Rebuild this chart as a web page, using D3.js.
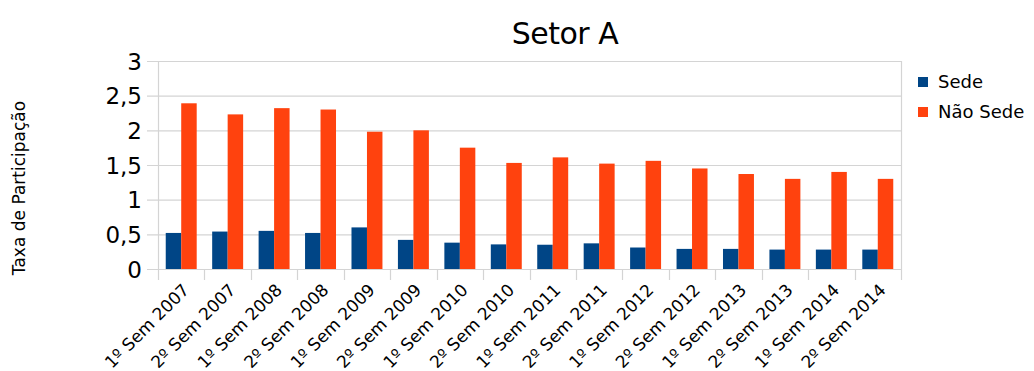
<!DOCTYPE html>
<html><head><meta charset="utf-8">
<script src="https://cdn.jsdelivr.net/npm/d3@7"></script>
<style>body{margin:0;background:#fff}svg{display:block;font-family:"DejaVu Sans",sans-serif}</style>
</head><body><svg id="c" width="1034" height="371"></svg>
<script>
const categories = ["1º Sem 2007","2º Sem 2007","1º Sem 2008","2º Sem 2008","1º Sem 2009","2º Sem 2009","1º Sem 2010","2º Sem 2010","1º Sem 2011","2º Sem 2011","1º Sem 2012","2º Sem 2012","1º Sem 2013","2º Sem 2013","1º Sem 2014","2º Sem 2014"];
const seriesNames = ["Sede","Não Sede"];
const sede = [0.52,0.54,0.55,0.52,0.60,0.42,0.38,0.355,0.35,0.37,0.31,0.29,0.29,0.28,0.28,0.28];
const naoSede = [2.39,2.23,2.32,2.30,1.98,2.00,1.75,1.53,1.61,1.52,1.56,1.45,1.37,1.30,1.40,1.30];
const yTicks = [0,0.5,1,1.5,2,2.5,3];
const colors = ["#004586","#ff420e"];
const title = "Setor A";
const yTitle = "Taxa de Participação";

const svg = d3.select("#c");
const L=158,R=901,T=61,B=269;
const x = d3.scaleBand().domain(categories).range([L,R]).paddingInner(0).paddingOuter(0);
const x1 = d3.scaleBand().domain(seriesNames).range([0,x.bandwidth()]).paddingInner(0).paddingOuter(0.5);
const y = d3.scaleLinear().domain([0,3]).range([B,T]);
const fmt = d => String(d).replace(".",",");

// gridlines
svg.append("g").selectAll("line").data(yTicks).join("line")
  .attr("x1",L-11).attr("x2",R).attr("y1",d=>y(d)+0.5).attr("y2",d=>y(d)+0.5)
  .attr("stroke","#d4d4d4").attr("stroke-width",1.2);
// x ticks
const xt = categories.map(c=>x(c)).concat([R]);
svg.append("g").selectAll("line").data(xt).join("line")
  .attr("x1",d=>Math.round(d)+0.5).attr("x2",d=>Math.round(d)+0.5).attr("y1",B).attr("y2",B+11)
  .attr("stroke","#d4d4d4").attr("stroke-width",1.2);
// frame verticals
svg.append("line").attr("x1",L+0.5).attr("x2",L+0.5).attr("y1",T).attr("y2",B).attr("stroke","#d4d4d4").attr("stroke-width",1.2);
svg.append("line").attr("x1",R+0.5).attr("x2",R+0.5).attr("y1",T).attr("y2",B).attr("stroke","#d4d4d4").attr("stroke-width",1.2);

// bars
const data = [sede, naoSede];
const g = svg.append("g");
seriesNames.forEach((s,si)=>{
  g.selectAll(null).data(categories).join("rect")
    .attr("x",(c)=>x(c)+x1(s))
    .attr("width",x1.bandwidth())
    .attr("y",(c,i)=>y(data[si][i]))
    .attr("height",(c,i)=>y(0)-y(data[si][i]))
    .attr("fill",colors[si]);
});

// y axis labels
const ya = d3.axisLeft(y).tickValues(yTicks).tickFormat(fmt).tickSize(0).tickPadding(0);
const yag = svg.append("g").attr("transform",`translate(${L-16},0)`).call(ya);
yag.select(".domain").remove();
yag.selectAll("text").attr("font-size",23).attr("fill","#000").attr("font-family","DejaVu Sans").attr("dy","0.36em");

// x axis labels
const xa = d3.axisBottom(x).tickSize(0).tickPadding(0);
const xag = svg.append("g").attr("transform",`translate(0,${B})`).call(xa);
xag.select(".domain").remove();
xag.selectAll("text").attr("font-size",17).attr("fill","#000").attr("font-family","DejaVu Sans")
  .attr("text-anchor","end").attr("dy",0).attr("y",0)
  .attr("transform","translate(9,22) rotate(-45)");

// title
svg.append("text").attr("x",565).attr("y",44).attr("text-anchor","middle").attr("font-size",30).attr("letter-spacing",-0.5).text(title);
// y title
svg.append("text").attr("transform","translate(25,188) rotate(-90)").attr("text-anchor","middle").attr("font-size",17).text(yTitle);

// legend
const lg = svg.append("g").selectAll("g").data(seriesNames).join("g")
  .attr("transform",(d,i)=>`translate(918,${75+i*30})`);
lg.append("rect").attr("width",10).attr("height",10).attr("y",2).attr("fill",(d,i)=>colors[i]);
lg.append("text").attr("x",20).attr("y",13).attr("font-size",18).text(d=>d);
</script></body></html>
